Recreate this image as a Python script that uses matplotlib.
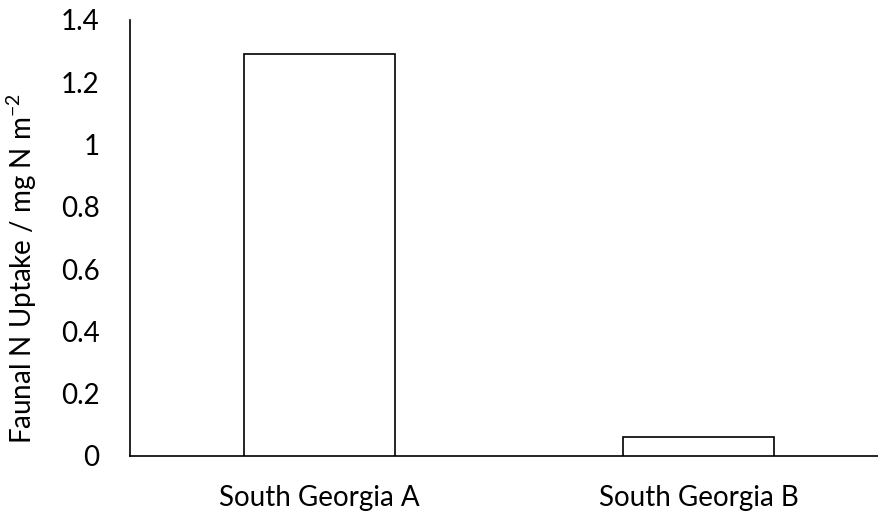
import matplotlib
matplotlib.use("Agg")
import matplotlib.pyplot as plt

categories = ["South Georgia A", "South Georgia B"]
values = [1.29, 0.06]
yticks = [0, 0.2, 0.4, 0.6, 0.8, 1, 1.2, 1.4]
ytick_labels = ["0", "0.2", "0.4", "0.6", "0.8", "1", "1.2", "1.4"]

plt.rcParams['font.family'] = ['Lato', 'DejaVu Sans']

fig = plt.figure(figsize=(8.79, 5.19), dpi=100)
ax = fig.add_axes([130/879, 1 - 456/519, 758/879, (456 - 20)/519])

x = list(range(len(categories)))
ax.bar(x, values, width=0.4, color="white", edgecolor="black", linewidth=1.2, zorder=3)

ax.set_xlim(-0.5, 1.5)
ax.set_ylim(0, 1.4)
ax.set_yticks(yticks)
ax.set_yticklabels(ytick_labels)
ax.set_xticks(x)
ax.set_xticklabels(categories)

ax.tick_params(axis="y", length=0, pad=22, labelsize=20)
ax.tick_params(axis="x", length=0, pad=21, labelsize=20)

for s in ["top", "right"]:
    ax.spines[s].set_visible(False)
for s in ["left", "bottom"]:
    ax.spines[s].set_linewidth(1.2)
    ax.spines[s].set_color("black")

ax.set_ylabel("Faunal N Uptake / mg N m$^{\\mathregular{-2}}$", fontsize=20)
ax.yaxis.set_label_coords(-0.12, (456 - 269) / 436)

fig.savefig("out.png", dpi=100)
